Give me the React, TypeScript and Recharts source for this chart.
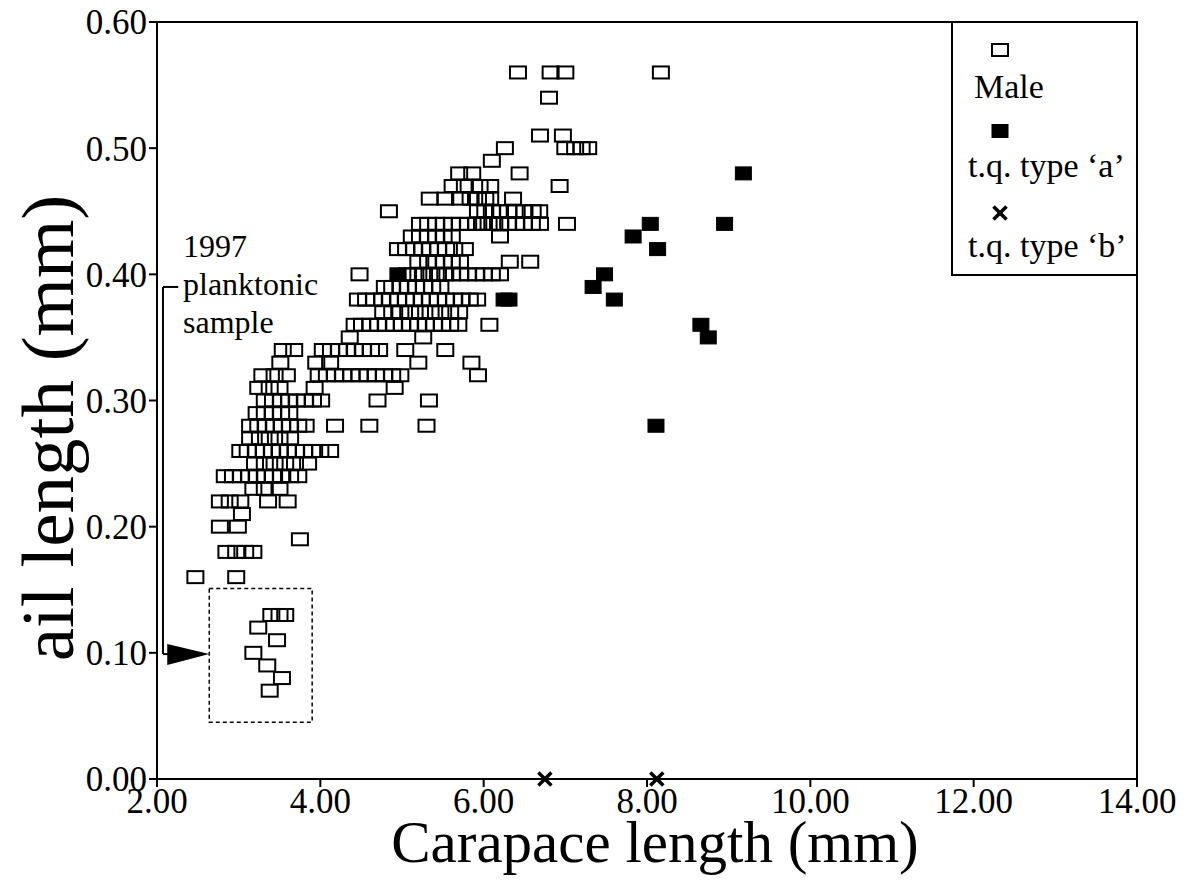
import React from "react";
import {
  ScatterChart,
  Scatter,
  XAxis,
  YAxis,
  ReferenceArea,
  ReferenceLine,
  ReferenceDot,
  Customized,
} from "recharts";

// ---- data ----
// Male: rows of [ail length, carapace lengths]
const maleRows: Array<[number, number[]]> = [
  [0.56, [6.42, 6.82, 7.0, 8.17]],
  [0.54, [6.8]],
  [0.51, [6.69, 6.97]],
  [0.5, [6.26, 7.0, 7.12, 7.2, 7.28]],
  [0.49, [6.1]],
  [0.48, [5.7, 5.86, 6.44]],
  [0.47, [5.62, 5.77, 5.95, 6.08, 6.93]],
  [0.46, [5.34, 5.53, 5.71, 5.84, 5.93, 6.02, 6.08, 6.36]],
  [0.45, [4.84, 5.93, 6.02, 6.1, 6.2, 6.3, 6.38, 6.5, 6.6, 6.68]],
  [0.44, [5.22, 5.32, 5.42, 5.51, 5.61, 5.71, 5.81, 5.91, 5.98, 6.06, 6.13, 6.2, 6.3, 6.4, 6.49, 6.59, 6.69, 7.02]],
  [0.43, [5.12, 5.22, 5.32, 5.42, 5.51, 5.61, 6.2]],
  [0.42, [4.95, 5.05, 5.15, 5.25, 5.34, 5.44, 5.54, 5.64, 5.77]],
  [0.41, [5.2, 5.32, 5.42, 5.51, 5.61, 5.71, 6.32, 6.57]],
  [0.4, [4.48, 5.06, 5.14, 5.2, 5.27, 5.36, 5.44, 5.53, 5.61, 5.71, 5.81, 5.91, 6.0, 6.1, 6.2]],
  [0.39, [4.79, 4.88, 4.98, 5.07, 5.17, 5.27, 5.37, 5.47]],
  [0.38, [4.46, 4.56, 4.66, 4.76, 4.85, 4.95, 5.05, 5.15, 5.24, 5.34, 5.44, 5.54, 5.64, 5.73, 5.83, 5.92]],
  [0.37, [4.77, 4.88, 4.98, 5.1, 5.22, 5.35, 5.47, 5.59, 5.7]],
  [0.36, [4.42, 4.51, 4.61, 4.71, 4.8, 4.9, 5.0, 5.1, 5.2, 5.29, 5.39, 5.49, 5.59, 5.69, 6.07]],
  [0.35, [4.36, 5.26]],
  [0.34, [3.54, 3.68, 4.03, 4.13, 4.23, 4.33, 4.42, 4.52, 4.62, 4.72, 5.04, 5.53]],
  [0.33, [3.51, 3.95, 4.12, 5.2, 5.85]],
  [0.32, [3.29, 3.44, 3.59, 3.98, 4.08, 4.18, 4.28, 4.38, 4.48, 4.58, 4.68, 4.78, 4.88, 4.98, 5.93]],
  [0.31, [3.24, 3.38, 3.5, 3.93, 4.91]],
  [0.3, [3.32, 3.42, 3.52, 3.62, 3.71, 3.81, 3.91, 4.01, 4.7, 5.33]],
  [0.29, [3.22, 3.32, 3.42, 3.52, 3.62]],
  [0.28, [3.14, 3.24, 3.33, 3.43, 3.53, 3.63, 3.73, 3.82, 4.18, 4.6, 5.3]],
  [0.27, [3.14, 3.26, 3.38, 3.5, 3.63]],
  [0.26, [3.02, 3.11, 3.21, 3.31, 3.41, 3.5, 3.6, 3.7, 3.8, 3.9, 4.0, 4.12]],
  [0.25, [3.2, 3.32, 3.44, 3.57, 3.69, 3.85]],
  [0.24, [2.83, 2.93, 3.03, 3.13, 3.22, 3.32, 3.42, 3.52, 3.63, 3.73]],
  [0.23, [3.18, 3.32, 3.5]],
  [0.22, [2.77, 2.89, 3.02, 3.36, 3.6]],
  [0.21, [3.04]],
  [0.2, [2.77, 2.99]],
  [0.19, [3.75]],
  [0.18, [2.85, 2.97, 3.08, 3.18]],
  [0.16, [2.47, 2.97]],
];

// 1997 planktonic sample (males, inset)
const planktonicRows: Array<[number, number[]]> = [
  [0.13, [3.4, 3.5, 3.57]],
  [0.12, [3.24]],
  [0.11, [3.47]],
  [0.1, [3.18]],
  [0.09, [3.35]],
  [0.08, [3.53]],
  [0.07, [3.38]],
];

const typeAX = [9.18, 8.04, 8.95, 7.83, 8.13, 7.48, 4.95, 7.34, 7.6, 6.25, 6.31, 8.66, 8.75, 8.11];
const typeAY = [0.48, 0.44, 0.44, 0.43, 0.42, 0.4, 0.4, 0.39, 0.38, 0.38, 0.38, 0.36, 0.35, 0.28];

const typeBX = [6.75, 8.12];
const typeBY = [0, 0];

const xTicks = [2, 4, 6, 8, 10, 12, 14];
const yTicks = [0, 0.1, 0.2, 0.3, 0.4, 0.5, 0.6];

const annotationLines = ["1997", "planktonic", "sample"];

// ---- build tables ----
const fromRows = (rows: Array<[number, number[]]>) =>
  rows.flatMap(([y, xs]) => xs.map((x) => ({ x, y })));
const maleData = [...fromRows(maleRows), ...fromRows(planktonicRows)];
const typeAData = typeAX.map((x, i) => ({ x, y: typeAY[i] }));
const typeBData = typeBX.map((x, i) => ({ x, y: typeBY[i] }));

const FONT = "Liberation Serif";
const fontStyle = { fontFamily: FONT };

const OpenSquare = (p: any) => (
  <rect x={p.cx - 8} y={p.cy - 6} width={16} height={12} fill="none" stroke="#000" strokeWidth={2} />
);
const FilledSquare = (p: any) => (
  <rect x={p.cx - 8} y={p.cy - 6.5} width={16} height={13} fill="#000" stroke="#000" strokeWidth={1} />
);
const Cross = (p: any) => (
  <g stroke="#000" strokeWidth={3.5}>
    <line x1={p.cx - 6.5} y1={p.cy - 6.5} x2={p.cx + 6.5} y2={p.cy + 6.5} />
    <line x1={p.cx - 6.5} y1={p.cy + 6.5} x2={p.cx + 6.5} y2={p.cy - 6.5} />
  </g>
);

const ArrowHead = (p: any) => (
  <polygon
    points={`${p.cx},${p.cy} ${p.cx - 42},${p.cy - 10} ${p.cx - 42},${p.cy + 11}`}
    fill="#000"
  />
);

const Overlay = () => (
  <g fill="#000" style={fontStyle}>
    {/* legend */}
    <rect x={952} y={22} width={185} height={253} fill="none" stroke="#000" strokeWidth={2} />
    <OpenSquare cx={1000} cy={50} />
    <text x={974} y={98} fontSize={34} style={fontStyle}>Male</text>
    <FilledSquare cx={1000} cy={131} />
    <text x={968} y={177} fontSize={34} style={fontStyle}>t.q. type ‘a’</text>
    <Cross cx={1000} cy={213} />
    <text x={968} y={257} fontSize={34} style={fontStyle}>t.q. type ‘b’</text>
    {/* annotation */}
    {annotationLines.map((t, i) => (
      <text key={t} x={183} y={257 + i * 38} fontSize={32} style={fontStyle}>
        {t}
      </text>
    ))}
    {/* axis titles */}
    <text x={655} y={862} fontSize={59} textAnchor="middle" style={fontStyle}>
      Carapace length (mm)
    </text>
    <text
      x={0}
      y={0}
      fontSize={75}
      textAnchor="middle"
      transform="translate(73,428) rotate(-90)"
      style={fontStyle}
    >
      ail length (mm)
    </text>
  </g>
);

const tickStyle = { fill: "#000", fontSize: 35, fontFamily: FONT, style: fontStyle };

export default function App() {
  return (
    <div style={{ position: "fixed", left: 0, top: 0, background: "#fff" }}>
      <ScatterChart
        width={1186}
        height={891}
        margin={{ top: 22, right: 49, bottom: 52, left: 17 }}
      >
        <XAxis
          type="number"
          dataKey="x"
          domain={[2, 14]}
          ticks={xTicks}
          tickFormatter={(v: number) => v.toFixed(2)}
          axisLine={{ stroke: "#000", strokeWidth: 2 }}
          tickLine={{ stroke: "#000", strokeWidth: 2 }}
          tickSize={8}
          tickMargin={1}
          tick={tickStyle}
          height={60}
          interval={0}
        />
        <YAxis
          type="number"
          dataKey="y"
          domain={[0, 0.6]}
          ticks={yTicks}
          tickFormatter={(v: number) => v.toFixed(2)}
          axisLine={{ stroke: "#000", strokeWidth: 2 }}
          tickLine={{ stroke: "#000", strokeWidth: 2 }}
          tickSize={8}
          tick={tickStyle}
          width={140}
          interval={0}
        />
        <ReferenceArea x1={2} x2={14} y1={0} y2={0.6} fill="none" stroke="#000" strokeWidth={2} />
        <ReferenceArea
          x1={2.64}
          x2={3.9}
          y1={0.045}
          y2={0.151}
          fill="none"
          stroke="#000"
          strokeWidth={1.5}
          strokeDasharray="4 3"
        />
        <ReferenceLine
          segment={[{ x: 2.073, y: 0.39 }, { x: 2.073, y: 0.099 }]}
          stroke="#000"
          strokeWidth={2}
        />
        <ReferenceLine
          segment={[{ x: 2.073, y: 0.39 }, { x: 2.26, y: 0.39 }]}
          stroke="#000"
          strokeWidth={2}
        />
        <ReferenceLine
          segment={[{ x: 2.073, y: 0.099 }, { x: 2.14, y: 0.099 }]}
          stroke="#000"
          strokeWidth={2}
        />
        <ReferenceDot x={2.64} y={0.099} r={1} shape={ArrowHead} />
        <Scatter data={maleData} shape={OpenSquare} isAnimationActive={false} />
        <Scatter data={typeAData} shape={FilledSquare} isAnimationActive={false} />
        <Scatter data={typeBData} shape={Cross} isAnimationActive={false} />
        <Customized component={Overlay} />
      </ScatterChart>
    </div>
  );
}
